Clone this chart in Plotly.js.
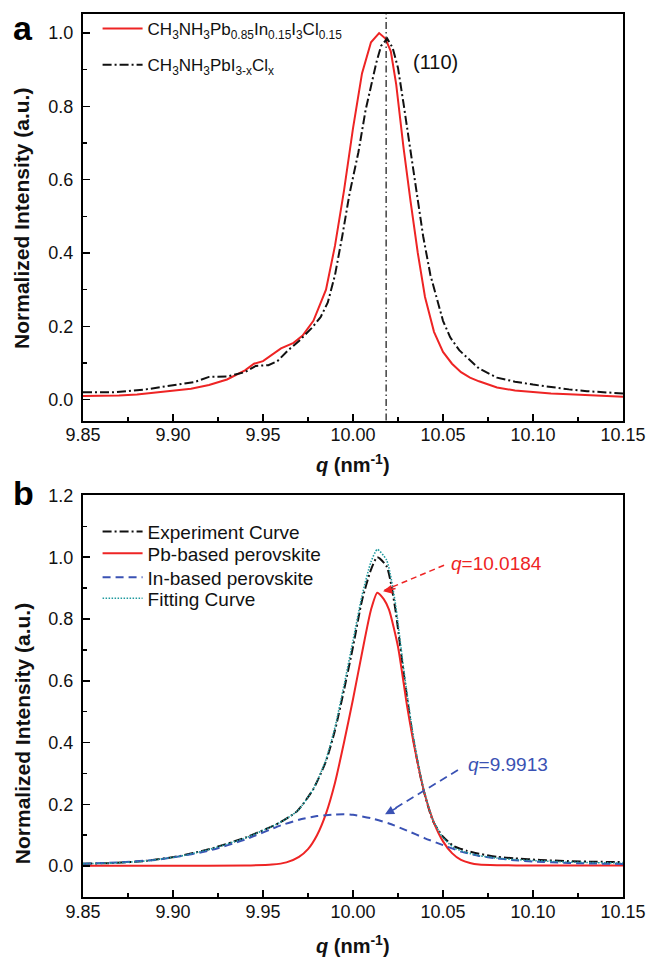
<!DOCTYPE html>
<html>
<head>
<meta charset="utf-8">
<script src="https://cdn.plot.ly/plotly-3.0.1.min.js"></script>
<style>html,body{margin:0;padding:0;background:#fff;}#chart{width:650px;height:957px;}</style>
</head>
<body>
<div id="chart"></div>
<script>
// ---------- Panel a data ----------
const qInDoped = [9.850, 9.860, 9.870, 9.880, 9.890, 9.900, 9.910, 9.920, 9.930, 9.940, 9.945, 9.950, 9.960, 9.967, 9.972, 9.978, 9.985, 9.990, 9.995, 10.000, 10.005, 10.010, 10.0145, 10.018, 10.021, 10.024, 10.028, 10.032, 10.036, 10.040, 10.045, 10.050, 10.055, 10.060, 10.065, 10.070, 10.080, 10.090, 10.100, 10.110, 10.120, 10.130, 10.140, 10.150];
const iInDoped = [0.010, 0.010, 0.011, 0.014, 0.020, 0.025, 0.030, 0.040, 0.055, 0.080, 0.098, 0.105, 0.140, 0.155, 0.175, 0.215, 0.300, 0.420, 0.570, 0.740, 0.890, 0.975, 1.000, 0.985, 0.950, 0.860, 0.690, 0.540, 0.400, 0.280, 0.185, 0.130, 0.098, 0.075, 0.060, 0.050, 0.033, 0.025, 0.020, 0.017, 0.015, 0.012, 0.010, 0.008];

const qPbRef = [9.850, 9.867, 9.885, 9.900, 9.912, 9.920, 9.930, 9.940, 9.946, 9.953, 9.958, 9.964, 9.970, 9.977, 9.982, 9.986, 9.990, 9.994, 9.998, 10.003, 10.007, 10.010, 10.013, 10.0156, 10.019, 10.022, 10.025, 10.028, 10.032, 10.036, 10.039, 10.043, 10.047, 10.050, 10.054, 10.059, 10.064, 10.070, 10.080, 10.090, 10.100, 10.110, 10.120, 10.130, 10.140, 10.150];
const iPbRef = [0.020, 0.020, 0.028, 0.038, 0.048, 0.062, 0.063, 0.075, 0.092, 0.094, 0.105, 0.135, 0.160, 0.195, 0.225, 0.265, 0.340, 0.445, 0.560, 0.675, 0.790, 0.855, 0.920, 0.965, 0.985, 0.960, 0.905, 0.810, 0.675, 0.540, 0.445, 0.340, 0.265, 0.215, 0.170, 0.135, 0.112, 0.085, 0.060, 0.049, 0.041, 0.034, 0.028, 0.023, 0.020, 0.017];

const peak110 = 10.0184;

// ---------- Panel b data ----------
const qExp = [9.850, 9.867, 9.885, 9.904, 9.922, 9.941, 9.959, 9.969, 9.978, 9.985, 9.990, 9.995, 10.000, 10.005, 10.010, 10.0135, 10.0187, 10.0233, 10.028, 10.0335, 10.039, 10.0445, 10.050, 10.056, 10.063, 10.070, 10.080, 10.090, 10.104, 10.120, 10.135, 10.150];
const iExp = [0.008, 0.010, 0.017, 0.033, 0.058, 0.094, 0.140, 0.178, 0.250, 0.340, 0.440, 0.570, 0.710, 0.860, 0.960, 1.000, 0.970, 0.840, 0.630, 0.410, 0.250, 0.145, 0.095, 0.065, 0.050, 0.040, 0.030, 0.025, 0.020, 0.016, 0.014, 0.013];
const iFit = [0.008, 0.010, 0.017, 0.032, 0.057, 0.093, 0.140, 0.178, 0.250, 0.345, 0.450, 0.585, 0.730, 0.875, 0.985, 1.025, 0.990, 0.860, 0.645, 0.420, 0.255, 0.148, 0.092, 0.060, 0.044, 0.034, 0.026, 0.021, 0.017, 0.013, 0.011, 0.010];

const qPbFit = [9.850, 9.900, 9.940, 9.955, 9.963, 9.970, 9.975, 9.980, 9.985, 9.990, 9.995, 10.000, 10.005, 10.010, 10.0135, 10.017, 10.020, 10.025, 10.030, 10.035, 10.040, 10.045, 10.050, 10.055, 10.060, 10.065, 10.070, 10.080, 10.100, 10.150];
const iPbFit = [0.001, 0.001, 0.002, 0.005, 0.012, 0.030, 0.055, 0.100, 0.170, 0.270, 0.400, 0.540, 0.690, 0.830, 0.885, 0.865, 0.830, 0.710, 0.520, 0.360, 0.230, 0.140, 0.080, 0.042, 0.020, 0.010, 0.005, 0.003, 0.002, 0.002];

const qInFit = [9.850, 9.870, 9.890, 9.900, 9.920, 9.940, 9.960, 9.970, 9.980, 9.990, 9.995, 10.000, 10.010, 10.020, 10.030, 10.040, 10.050, 10.060, 10.070, 10.080, 10.090, 10.100, 10.120, 10.150];
const iInFit = [0.008, 0.012, 0.020, 0.028, 0.050, 0.086, 0.132, 0.150, 0.162, 0.167, 0.168, 0.166, 0.155, 0.138, 0.115, 0.090, 0.068, 0.047, 0.033, 0.025, 0.019, 0.015, 0.010, 0.007];

const pbPeakLabel = '<i>q</i>=10.0184';
const inPeakLabel = '<i>q</i>=9.9913';

const xTickVals = [9.85, 9.90, 9.95, 10.00, 10.05, 10.10, 10.15];
const xTickText = ['9.85', '9.90', '9.95', '10.00', '10.05', '10.10', '10.15'];

// ---------- styles ----------
const FONT = 'Liberation Sans, Arial, Helvetica, sans-serif';
const RED = '#ee2424';
const BLACK = '#111111';
const BLUE = '#3a52b4';
const TEAL = '#1f9a9e';
const DASHDOT = '9px,3px,2px,3px';

const traces = [
  {x: qInDoped, y: iInDoped, xaxis: 'x', yaxis: 'y', mode: 'lines', legend: 'legend',
   name: 'CH<sub>3</sub>NH<sub>3</sub>Pb<sub>0.85</sub>In<sub>0.15</sub>I<sub>3</sub>Cl<sub>0.15</sub>',
   line: {color: RED, width: 2}},
  {x: qPbRef, y: iPbRef, xaxis: 'x', yaxis: 'y', mode: 'lines', legend: 'legend2',
   name: 'CH<sub>3</sub>NH<sub>3</sub>PbI<sub>3-x</sub>Cl<sub>x</sub>',
   line: {color: BLACK, width: 2, dash: DASHDOT}},
  {x: qExp, y: iExp, xaxis: 'x2', yaxis: 'y2', mode: 'lines', legend: 'legend3',
   name: 'Experiment Curve', line: {color: BLACK, width: 2, dash: DASHDOT, shape: 'spline', smoothing: 0.6}},
  {x: qPbFit, y: iPbFit, xaxis: 'x2', yaxis: 'y2', mode: 'lines', legend: 'legend4',
   name: 'Pb-based perovskite', line: {color: RED, width: 2, shape: 'spline', smoothing: 0.6}},
  {x: qInFit, y: iInFit, xaxis: 'x2', yaxis: 'y2', mode: 'lines', legend: 'legend5',
   name: 'In-based perovskite', line: {color: BLUE, width: 2, dash: '8px,5px', shape: 'spline', smoothing: 0.6}},
  {x: qExp, y: iFit, xaxis: 'x2', yaxis: 'y2', mode: 'lines', legend: 'legend6',
   name: 'Fitting Curve', line: {color: TEAL, width: 1.6, dash: '1.5px,1.5px', shape: 'spline', smoothing: 0.6}}
];

function xAxis(anchor) {
  return {
    anchor: anchor, domain: [0, 1], range: [9.85, 10.15],
    tickmode: 'array', tickvals: xTickVals, ticktext: xTickText,
    ticks: 'inside', ticklen: 7, tickwidth: 1.5, tickcolor: '#000',
    minor: {dtick: 0.025, tick0: 9.85, ticks: 'inside', ticklen: 4, tickwidth: 1.5, tickcolor: '#000'},
    showline: true, linecolor: '#000', linewidth: 2, mirror: true,
    showgrid: false, zeroline: false,
    tickfont: {family: FONT, size: 18, color: '#111'}, ticklabelstandoff: -3
  };
}
function yAxis(anchor, domain, range) {
  return {
    anchor: anchor, domain: domain, range: range,
    tick0: 0, dtick: 0.2, tickformat: '.1f',
    ticks: 'inside', ticklen: 7, tickwidth: 1.5, tickcolor: '#000',
    minor: {dtick: 0.1, tick0: 0, ticks: 'inside', ticklen: 4, tickwidth: 1.5, tickcolor: '#000'},
    showline: true, linecolor: '#000', linewidth: 2, mirror: true,
    showgrid: false, zeroline: false,
    tickfont: {family: FONT, size: 18, color: '#111'}, ticklabelstandoff: 4
  };
}

function legendAt(x, y, size) {
  return {
    xref: 'paper', yref: 'paper', x: x, y: y, xanchor: 'left', yanchor: 'top',
    bgcolor: 'rgba(0,0,0,0)', borderwidth: 0, itemwidth: 40,
    font: {family: FONT, size: size, color: '#111'}
  };
}

function ann(text, x, y, size, color, extra) {
  return Object.assign({text: text, xref: 'paper', yref: 'paper', x: x, y: y,
    xanchor: 'center', yanchor: 'middle', showarrow: false,
    font: {family: FONT, size: size, color: color || '#111'}}, extra || {});
}

const layout = {
  width: 650, height: 957,
  margin: {l: 83, r: 27, t: 13, b: 60},
  paper_bgcolor: '#fff', plot_bgcolor: '#fff',
  font: {family: FONT, color: '#111'},
  showlegend: true,
  xaxis: xAxis('y'),
  yaxis: yAxis('x', [0.5396, 1], [-0.057, 1.052]),
  xaxis2: xAxis('y2'),
  yaxis2: yAxis('x2', [0, 0.4548], [-0.1, 1.2]),
  legend:  legendAt(0.027, 1.0023, 17),
  legend2: legendAt(0.027, 0.9614, 17),
  legend3: legendAt(0.027, 0.4349, 19),
  legend4: legendAt(0.027, 0.4101, 19),
  legend5: legendAt(0.027, 0.3830, 19),
  legend6: legendAt(0.027, 0.3592, 19),
  shapes: [
    {type: 'line', xref: 'x', yref: 'y domain', x0: peak110, x1: peak110, y0: 0, y1: 1,
     line: {color: BLACK, width: 1.2, dash: '7px,3px,1.5px,3px'}},
    {type: 'line', xref: 'x2', yref: 'y2', x0: 10.0506, y0: 0.974, x1: 10.0175, y1: 0.893,
     line: {color: RED, width: 1.5, dash: '6px,4px'}},
    {type: 'line', xref: 'x2', yref: 'y2', x0: 10.0583, y0: 0.311, x1: 10.0190, y1: 0.172,
     line: {color: BLUE, width: 1.8, dash: '8px,5px'}}
  ],
  annotations: [
    ann('<b>a</b>', -0.111, 0.984, 34, '#000'),
    ann('<b>b</b>', -0.111, 0.458, 34, '#000'),
    ann('<b>Normalized Intensity (a.u.)</b>', -0.113, 0.769, 21, '#111', {textangle: -90}),
    ann('<b>Normalized Intensity (a.u.)</b>', -0.113, 0.1855, 21, '#111', {textangle: -90}),
    ann('<b><i>q</i> (nm<sup>-1</sup>)</b>', 0.5, 0.491, 20),
    ann('<b><i>q</i> (nm<sup>-1</sup>)</b>', 0.5, -0.0543, 20),
    ann('(110)', 10.046, 0.921, 20, '#111', {xref: 'x', yref: 'y'}),
    ann(pbPeakLabel, 10.0535, 0.98, 19, RED, {xref: 'x2', yref: 'y2', xanchor: 'left'}),
    ann(inPeakLabel, 10.0625, 0.33, 19, BLUE, {xref: 'x2', yref: 'y2', xanchor: 'left'}),
    // arrowheads
    {text: '', xref: 'x2', yref: 'y2', x: 10.0167, y: 0.89, ax: 14, ay: -3, axref: 'pixel', ayref: 'pixel',
     showarrow: true, arrowhead: 2, arrowsize: 1.2, arrowwidth: 1.5, arrowcolor: RED},
    {text: '', xref: 'x2', yref: 'y2', x: 10.0178, y: 0.168, ax: 13, ay: -7, axref: 'pixel', ayref: 'pixel',
     showarrow: true, arrowhead: 2, arrowsize: 1.2, arrowwidth: 1.5, arrowcolor: BLUE}
  ]
};

Plotly.newPlot('chart', traces, layout, {displayModeBar: false, staticPlot: true});
</script>
</body>
</html>
